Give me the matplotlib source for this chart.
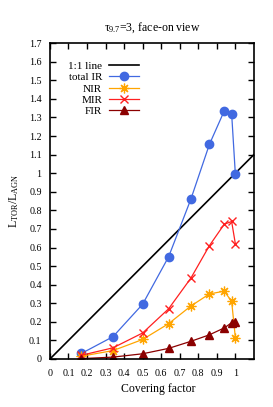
import numpy as np
import matplotlib.pyplot as plt

# covering factor and L_TOR/L_AGN per band
cov = [0.17, 0.34, 0.5, 0.64, 0.76, 0.86, 0.94, 0.98, 1.0]
total_ir = [0.03, 0.12, 0.295, 0.55, 0.86, 1.155, 1.335, 1.32, 0.995]
nir = [0.015, 0.045, 0.105, 0.19, 0.285, 0.35, 0.365, 0.31, 0.115]
mir = [0.02, 0.06, 0.14, 0.27, 0.435, 0.61, 0.725, 0.74, 0.62]
fir = [0.002, 0.01, 0.028, 0.057, 0.095, 0.13, 0.167, 0.195, 0.2]

xticks = [0, 0.1, 0.2, 0.3, 0.4, 0.5, 0.6, 0.7, 0.8, 0.9, 1]
yticks = [0, 0.1, 0.2, 0.3, 0.4, 0.5, 0.6, 0.7, 0.8, 0.9, 1, 1.1, 1.2, 1.3, 1.4, 1.5, 1.6, 1.7]

plt.rcParams['font.family'] = ['Liberation Serif', 'DejaVu Serif']
plt.rcParams['mathtext.fontset'] = 'custom'
plt.rcParams['mathtext.rm'] = 'Liberation Serif'
plt.rcParams['mathtext.it'] = 'Liberation Serif'

fig = plt.figure(figsize=(2.73, 4.07), dpi=100)
ax = fig.add_axes([0.183, 0.118, 0.747, 0.776])

ax.plot([0, 1.1], [0, 1.1], color='black', lw=1.2, label='1:1 line')
ax.plot(cov, total_ir, color='#4169e1', lw=0.9, marker='o', ms=6, label='total IR')
ax.plot(cov, nir, color='#ffa500', lw=0.9, marker=(8, 2, 0), ms=7, mew=0.9, label='NIR')
ax.plot(cov, mir, color='#ff2020', lw=0.9, marker='x', ms=6, mew=1, label='MIR')
ax.plot(cov, fir, color='#8b0000', lw=0.9, marker='^', ms=5.5, label='FIR')

ax.set_xlim(0, 1.1)
ax.set_ylim(0, 1.7)
ax.set_xticks(xticks)
ax.set_xticklabels([f'{v:g}' for v in xticks])
ax.set_yticks(yticks)
ax.set_yticklabels([f'{v:g}' for v in yticks])
ax.tick_params(direction='in', top=True, right=True, labelsize=7.2, length=4, width=1)
ax.tick_params(axis='y', pad=6)
ax.tick_params(axis='x', pad=7)
for s in ax.spines.values():
    s.set_linewidth(1.2)

ax.set_title(r'$\tau_{9.7}$=3, face-on view', fontsize=8.5, pad=9)
ax.set_xlabel('Covering factor', fontsize=8.5, labelpad=8)
ax.xaxis.set_label_coords(0.53, -0.075)
ax.set_ylabel(r'L$_{\rm TOR}$/L$_{\rm AGN}$', fontsize=8.5, labelpad=6)

ax.legend(loc='upper right', bbox_to_anchor=(0.436, 0.943), frameon=False, markerfirst=False,
          fontsize=8, handlelength=2.7, labelspacing=0.14, handletextpad=0.6,
          borderpad=0, borderaxespad=0)

fig.savefig('out.png', dpi=100)
